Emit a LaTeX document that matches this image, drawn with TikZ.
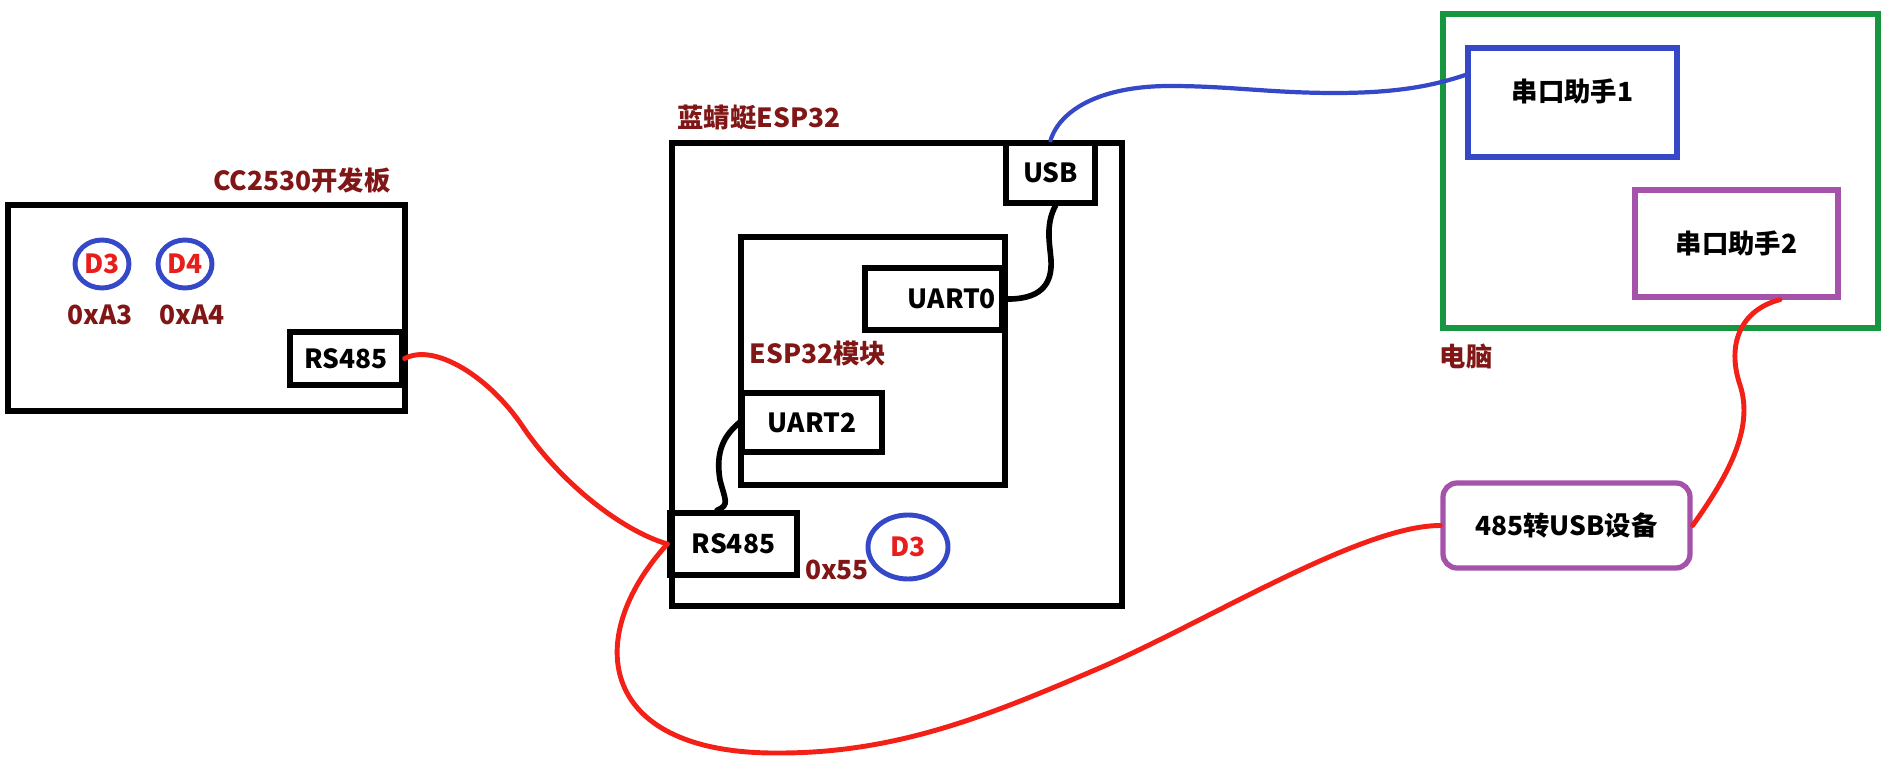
\documentclass[tikz,border=0pt]{standalone}
\usepackage{fontspec}
\setmainfont{Noto Sans CJK SC}
\usepackage{tikz}
\usetikzlibrary{shapes.geometric}
\definecolor{boardred}{RGB}{128,22,22}
\definecolor{ledred}{RGB}{232,30,28}
\definecolor{ledblue}{RGB}{52,72,200}
\definecolor{pcgreen}{RGB}{22,150,62}
\definecolor{toolpurple}{RGB}{164,82,170}
\definecolor{wirered}{RGB}{242,32,22}

\begin{document}
\begin{tikzpicture}[
    font=\fontsize{15}{18}\selectfont\bfseries,
    board/.style={draw, line width=3.4pt, inner sep=0pt},
    port/.style={draw, line width=3pt, inner sep=0pt},
    led/.style={draw=ledblue, ellipse, line width=2.8pt, inner sep=0pt,
                text=ledred, minimum width=1.08cm, minimum height=0.96cm},
    caption/.style={text=boardred},
    tool/.style={line width=3pt, inner sep=0pt},
    wire/.style={line width=2.8pt, line cap=round}
]
    \useasboundingbox (0,0) rectangle (37.8,-15.34);

    \node[board, minimum width=7.94cm, minimum height=4.12cm] (cc) at (4.13,-6.16) {};
    \node[caption] (cc-title) at (6.04,-3.6) {CC2530开发板};
    \foreach \n/\x/\ax in {3/2.04/2.0, 4/3.7/3.84}{
        \node[led] (cc-d\n) at (\x,-5.28) {D\n};
        \node[caption] (cc-a\n) at (\ax,-6.3) {0xA\n};
    }
    \node[port, minimum width=2.24cm, minimum height=1.06cm] (cc-rs) at (6.92,-7.17) {RS485};

    \node[board, minimum width=9cm, minimum height=9.26cm] (esp) at (17.94,-7.49) {};
    \node[caption] (esp-title) at (15.18,-2.36) {蓝蜻蜓ESP32};
    \node[port, minimum width=1.78cm, minimum height=1.2cm] (usb) at (21.01,-3.46) {USB};
    \node[port, minimum width=5.28cm, minimum height=4.96cm] (mod) at (17.46,-7.22) {};
    \node[caption] (mod-title) at (16.36,-7.08) {ESP32模块};
    \node[port, minimum width=2.74cm, minimum height=1.24cm, text width=2.5cm,
          align=right] (uart0) at (18.67,-5.98) {UART0};
    \node[port, minimum width=2.8cm, minimum height=1.18cm] (uart2) at (16.24,-8.45) {UART2};
    \node[port, minimum width=2.54cm, minimum height=1.24cm] (esp-rs) at (14.67,-10.88) {RS485};
    \node[caption] (esp-a3) at (16.74,-11.4) {0x55};
    \node[led, minimum width=1.6cm, minimum height=1.28cm] (esp-d3) at (18.16,-10.94) {D3};

    \node[tool, draw=pcgreen, minimum width=8.7cm, minimum height=6.28cm] (pc) at (33.21,-3.42) {};
    \node[caption] (pc-title) at (29.32,-7.14) {电脑};
    \node[tool, draw=ledblue, minimum width=4.18cm, minimum height=2.18cm,
          text height=0.45cm, text depth=0.5cm] (tool1) at (31.45,-2.05) {串口助手1};
    \node[tool, draw=toolpurple, minimum width=4.06cm, minimum height=2.14cm] (tool2) at (34.73,-4.87) {串口助手2};
    \node[tool, draw=toolpurple, rounded corners=8pt, minimum width=4.94cm,
          minimum height=1.7cm] (conv) at (31.33,-10.51) {485转USB设备};

    \draw[wire, ledblue, line width=2.4pt] (usb.north) .. controls (21.2,-2.2) and (22.0,-1.72) .. (23.4,-1.72)
        .. controls (24.6,-1.72) and (25.4,-1.86) .. (26.7,-1.86)
        .. controls (28,-1.86) and (28.7,-1.7) .. ([yshift=0.55cm]tool1.west);
    \draw[wire, line width=3.2pt] ([xshift=0.1cm]usb.south) .. controls (20.9,-4.5) and (21.0,-4.9) .. (21.02,-5.2)
        .. controls (21.05,-5.7) and (20.8,-6.0) .. (uart0.east);
    \draw[wire, line width=3.2pt] (uart2.west) .. controls (14.5,-8.7) and (14.3,-9.0) .. (14.4,-9.6)
        .. controls (14.5,-10.0) and (14.6,-10.1) .. ([xshift=-0.33cm]esp-rs.north);
    \draw[wire, wirered] (cc-rs.east) .. controls (8.7,-6.85) and (9.8,-7.55) .. (10.46,-8.54)
        .. controls (11.19,-9.62) and (12.4,-10.6) .. (esp-rs.west);
    \draw[wire, wirered] (esp-rs.west) .. controls (11.6,-12.8) and (12.0,-15.1) .. (15.6,-15.06)
        .. controls (18.0,-15.06) and (19.88,-14.26) .. (21.9,-13.4)
        .. controls (24.1,-12.46) and (27.2,-10.51) .. (conv.west);
    \draw[wire, wirered] (conv.east) .. controls (34.5,-9.6) and (35.1,-8.6) .. (34.8,-7.7)
        .. controls (34.53,-6.9) and (34.8,-6.2) .. ([xshift=0.87cm]tool2.south);
\end{tikzpicture}
\end{document}
